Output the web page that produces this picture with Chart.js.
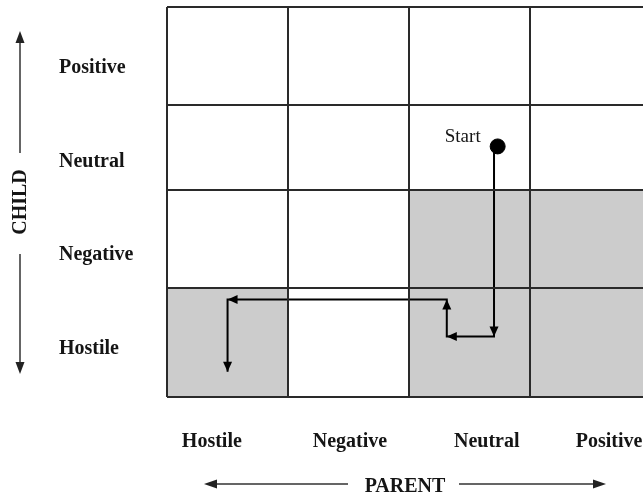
<!DOCTYPE html>
<html lang="en">
  <head>
    <meta charset="UTF-8" />
    <title>State space grid</title>
    <script src="https://cdn.jsdelivr.net/npm/chart.js"></script>
    <style>
      body {
        margin: 0;
        background: #fff;
      }
      .canvas {
        width: 643px;
        height: 495px;
      }
    </style>
  </head>
  <body>
    <div class="canvas">
      <canvas id="myChart"></canvas>
    </div>
    <script>
      // states on each axis
      let parentStates = ["Hostile", "Negative", "Neutral", "Positive"];
      let childStates = ["Hostile", "Negative", "Neutral", "Positive"];

      // shaded cells: [parent index, child index]
      let shadedCells = [
        [2, 1],
        [3, 1],
        [0, 0],
        [2, 0],
        [3, 0],
      ];

      // trajectory (parent, child units)
      let pathParent = [2.7, 2.7, 2.31, 2.31, 0.5, 0.5];
      let pathChild = [2.57, 0.62, 0.62, 1.0, 1.0, 0.26];
      let startParent = [2.73];
      let startChild = [2.57];

      // layout: row edges of the grid and where the state names sit
      const childEdges = [0, 1.12, 2.12, 3.0, 4];
      const childLabelAt = [0.49, 1.46, 2.41, 3.38];
      const parentLabelAt = [0.37, 1.51, 2.64, 3.65];
      const xMax = 3.93;

      const serif = "'Liberation Serif', 'Times New Roman', serif";
      const labelFont = { family: serif, size: 20, weight: "bold" };
      const ink = "#151515";
      const gridColor = "#2a2a2a";
      const shade = "#cccccc";

      function arrowHead(ctx, x0, y0, x1, y1, len, half) {
        const a = Math.atan2(y1 - y0, x1 - x0);
        const c = Math.cos(a), s = Math.sin(a);
        ctx.beginPath();
        ctx.moveTo(x1, y1);
        ctx.lineTo(x1 - len * c + half * s, y1 - len * s - half * c);
        ctx.lineTo(x1 - len * c - half * s, y1 - len * s + half * c);
        ctx.closePath();
        ctx.fill();
      }

      // label scales should not push the plot area around
      function noPadding(s) {
        s.paddingTop = 0;
        s.paddingBottom = 0;
        s.paddingLeft = 0;
        s.paddingRight = 0;
      }

      const cellsPlugin = {
        id: "cells",
        beforeDatasetsDraw(chart) {
          const { ctx, chartArea } = chart;
          const x = chart.scales.x, y = chart.scales.y;
          ctx.save();
          ctx.fillStyle = shade;
          shadedCells.forEach(([c, r]) => {
            const x0 = x.getPixelForValue(c);
            const x1 = Math.min(x.getPixelForValue(c + 1), chartArea.right);
            const y0 = y.getPixelForValue(childEdges[r + 1]);
            const y1 = y.getPixelForValue(childEdges[r]);
            ctx.fillRect(x0, y0, x1 - x0, y1 - y0);
          });
          ctx.restore();
        },
      };

      const arrowsPlugin = {
        id: "arrows",
        afterDatasetsDraw(chart) {
          const ctx = chart.ctx;
          const pts = chart.getDatasetMeta(0).data;
          ctx.save();
          ctx.fillStyle = "#000";
          for (let i = 1; i < pts.length; i++) {
            arrowHead(ctx, pts[i - 1].x, pts[i - 1].y, pts[i].x, pts[i].y, 10, 4.5);
          }
          // "Start" label next to the dot
          const dot = chart.getDatasetMeta(1).data[0];
          ctx.font = "19px " + serif;
          ctx.fillStyle = ink;
          ctx.textAlign = "right";
          ctx.textBaseline = "middle";
          ctx.fillText("Start", dot.x - 17, dot.y - 9);
          ctx.restore();
        },
        afterDraw(chart) {
          const { ctx, chartArea } = chart;
          const cy = (chartArea.top + chartArea.bottom) / 2;
          const cx = (chartArea.left + chartArea.right) / 2;
          ctx.save();
          ctx.font = "bold 20px " + serif;
          ctx.fillStyle = ink;
          ctx.strokeStyle = "#333";
          ctx.lineWidth = 1.5;
          ctx.textAlign = "center";
          ctx.textBaseline = "middle";

          // CHILD (vertical)
          const ax = 20;
          ctx.save();
          ctx.translate(ax, cy);
          ctx.rotate(-Math.PI / 2);
          ctx.fillText("CHILD", 0, 1);
          ctx.restore();
          ctx.beginPath();
          ctx.moveTo(ax, cy - 49);
          ctx.lineTo(ax, 40);
          ctx.moveTo(ax, cy + 52);
          ctx.lineTo(ax, 364);
          ctx.stroke();
          ctx.fillStyle = "#222";
          arrowHead(ctx, ax, 60, ax, 31, 12, 4.5);
          arrowHead(ctx, ax, 340, ax, 374, 12, 4.5);

          // PARENT (horizontal)
          const ay = 484;
          ctx.fillStyle = ink;
          ctx.fillText("PARENT", cx, ay + 3);
          ctx.beginPath();
          ctx.moveTo(cx - 57, ay);
          ctx.lineTo(212, ay);
          ctx.moveTo(cx + 54, ay);
          ctx.lineTo(598, ay);
          ctx.stroke();
          ctx.fillStyle = "#222";
          arrowHead(ctx, 240, ay, 204, ay, 13, 4.5);
          arrowHead(ctx, 570, ay, 606, ay, 13, 4.5);
          ctx.restore();
        },
      };

      const ctx = document.getElementById("myChart");

      new Chart(ctx, {
        type: "scatter",
        data: {
          datasets: [
            {
              label: "Trajectory",
              data: pathParent.map((v, i) => ({ x: v, y: pathChild[i] })),
              showLine: true,
              borderColor: "#000",
              borderWidth: 2,
              pointRadius: 0,
              tension: 0,
            },
            {
              label: "Start",
              data: startParent.map((v, i) => ({ x: v, y: startChild[i] })),
              pointRadius: 7.5,
              backgroundColor: "#000",
              borderColor: "#000",
            },
          ],
        },
        options: {
          animation: false,
          responsive: true,
          maintainAspectRatio: false,
          layout: {
            autoPadding: false,
            padding: { top: 7, left: 59, right: 0, bottom: 0 },
          },
          plugins: {
            legend: { display: false },
            tooltip: { enabled: false },
          },
          scales: {
            x: {
              type: "linear",
              min: 0,
              max: xMax,
              position: "bottom",
              afterBuildTicks: (s) => {
                s.ticks = [0, 1, 2, 3].map((v) => ({ value: v }));
              },
              ticks: { display: false },
              grid: { color: gridColor, lineWidth: 2, drawTicks: false, z: 1 },
              border: { display: false },
              afterFit: (s) => {
                s.height = 0;
                noPadding(s);
              },
            },
            y: {
              type: "linear",
              min: 0,
              max: 4,
              position: "left",
              afterBuildTicks: (s) => {
                s.ticks = childEdges.map((v) => ({ value: v }));
              },
              ticks: { display: false },
              grid: { color: gridColor, lineWidth: 2, drawTicks: false, z: 1 },
              border: { display: false },
              afterFit: (s) => {
                s.width = 0;
                noPadding(s);
              },
            },
            xLab: {
              type: "linear",
              min: 0,
              max: xMax,
              position: "bottom",
              afterBuildTicks: (s) => {
                s.ticks = parentLabelAt.map((v) => ({ value: v }));
              },
              ticks: {
                callback: (v, i) => parentStates[i],
                font: labelFont,
                color: ink,
                padding: 33,
                maxRotation: 0,
                autoSkip: false,
              },
              grid: { display: false, drawTicks: false },
              border: { display: false },
              afterFit: (s) => {
                s.height = 98;
                noPadding(s);
              },
            },
            yLab: {
              type: "linear",
              min: 0,
              max: 4,
              position: "left",
              afterBuildTicks: (s) => {
                s.ticks = childLabelAt.map((v) => ({ value: v }));
              },
              ticks: {
                callback: (v, i) => childStates[i],
                font: labelFont,
                color: ink,
                crossAlign: "far",
                padding: 0,
                autoSkip: false,
              },
              grid: { display: false, drawTicks: false },
              border: { display: false },
              afterFit: (s) => {
                s.width = 108;
                noPadding(s);
              },
            },
          },
        },
        plugins: [cellsPlugin, arrowsPlugin],
      });
    </script>
  </body>
</html>
